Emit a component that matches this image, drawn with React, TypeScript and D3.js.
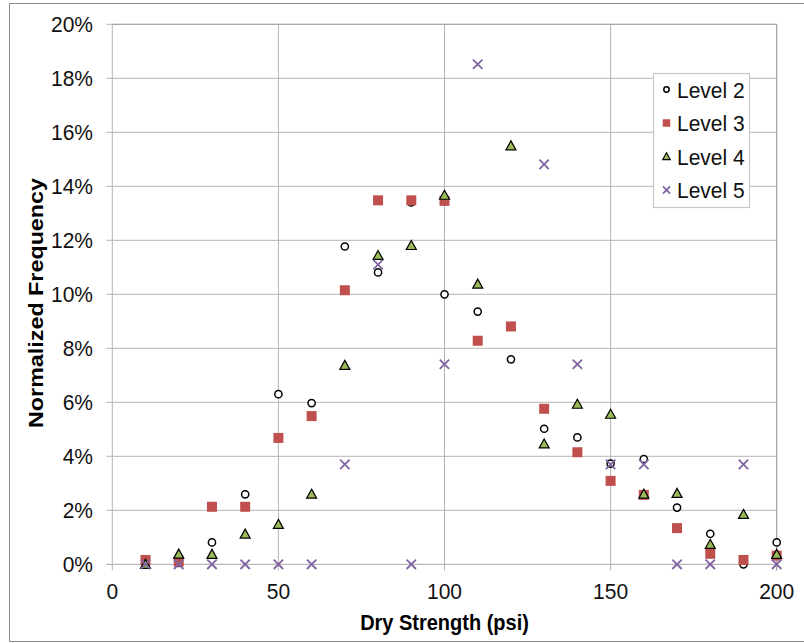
import React, { useEffect, useRef } from "react";
import * as d3 from "d3";

const strengths = [10, 20, 30, 40, 50, 60, 70, 80, 90, 100, 110, 120, 130, 140, 150, 160, 170, 180, 190, 200];
const level2 = [0, 0.05, 0.81, 2.59, 6.3, 5.97, 11.77, 10.81, 13.4, 10.0, 9.36, 7.59, 5.02, 4.7, 3.73, 3.9, 2.1, 1.13, 0, 0.81];
const level3 = [0.16, 0.1, 2.13, 2.13, 4.68, 5.49, 10.15, 13.48, 13.48, 13.46, 8.28, 8.81, 5.76, 4.15, 3.09, 2.57, 1.34, 0.39, 0.16, 0.32];
const level4 = [0, 0.38, 0.37, 1.12, 1.48, 2.6, 7.37, 11.44, 11.81, 13.67, 10.38, 15.5, 4.46, 5.93, 5.56, 2.6, 2.63, 0.74, 1.85, 0.37];
const level5 = [0, 0, 0, 0, 0, 0, 3.7, 11.1, 0, 7.41, 18.52, null, 14.81, 7.41, 3.7, 3.7, 0, 0, 3.7, 0];
const seriesNames = ["Level 2", "Level 3", "Level 4", "Level 5"];
const xTicks = [0, 50, 100, 150, 200];
const yTicks = [0, 2, 4, 6, 8, 10, 12, 14, 16, 18, 20];

function drawMarker(g: any, kind: number, size: number) {
  if (kind === 0) {
    g.append("circle").attr("r", size * 0.36).attr("fill", "#fff").attr("stroke", "#000").attr("stroke-width", 1.5);
  } else if (kind === 1) {
    g.append("rect").attr("x", -size / 2).attr("y", -size / 2).attr("width", size).attr("height", size).attr("fill", "#C0504D");
  } else if (kind === 2) {
    const h = size * 0.9;
    g.append("path")
      .attr("d", `M0,${-h * 0.55}L${size / 2},${h * 0.45}L${-size / 2},${h * 0.45}Z`)
      .attr("fill", "#9BBB59").attr("stroke", "#000").attr("stroke-width", 1.2);
  } else {
    const s = size * 0.47;
    g.append("path")
      .attr("d", `M${-s},${-s}L${s},${s}M${-s},${s}L${s},${-s}`)
      .attr("stroke", "#8064A2").attr("stroke-width", 1.8).attr("fill", "none");
  }
}

export default function App() {
  const ref = useRef<SVGSVGElement>(null);

  useEffect(() => {
    const svg = d3.select(ref.current);
    svg.selectAll("*").remove();

    const x = d3.scaleLinear().domain([0, 200]).range([112.3, 776.7]);
    const y = d3.scaleLinear().domain([0, 20]).range([564.3, 24.3]);
    const font = "'Liberation Sans', Arial, sans-serif";

    // outer frame
    svg.append("path").attr("d", "M810,3.5H9.5V641.5H810").attr("fill", "none").attr("stroke", "#8a8a8a").attr("stroke-width", 1);

    // gridlines
    svg.append("g").selectAll("line").data(yTicks).enter().append("line")
      .attr("x1", x(0) - 6).attr("x2", x(200))
      .attr("y1", (d) => y(d)).attr("y2", (d) => y(d))
      .attr("stroke", (d) => (d === 0 ? "#a8a8a8" : "#b4b4b4")).attr("stroke-width", 1);
    svg.append("g").selectAll("line").data(xTicks).enter().append("line")
      .attr("x1", (d) => x(d)).attr("x2", (d) => x(d))
      .attr("y1", y(20)).attr("y2", y(0) + 6)
      .attr("stroke", "#b4b4b4").attr("stroke-width", 1);
    svg.append("line").attr("x1", x(0)).attr("x2", x(200)).attr("y1", y(20)).attr("y2", y(20)).attr("stroke", "#a0a0a0");
    svg.append("line").attr("x1", x(200)).attr("x2", x(200)).attr("y1", y(20)).attr("y2", y(0) + 6).attr("stroke", "#a0a0a0");

    // tick labels (the reference text is a little taller than wide)
    svg.append("g").selectAll("text").data(yTicks).enter().append("text")
      .attr("transform", (d) => `translate(93,${y(d) + 8}) scale(1,1.08)`)
      .attr("text-anchor", "end").attr("font-family", font).attr("font-size", 21).attr("fill", "#111")
      .text((d) => `${d}%`);
    svg.append("g").selectAll("text").data(xTicks).enter().append("text")
      .attr("transform", (d) => `translate(${x(d)},599) scale(1,1.08)`)
      .attr("text-anchor", "middle").attr("font-family", font).attr("font-size", 21).attr("fill", "#111")
      .text((d) => d);

    // axis titles
    svg.append("text").attr("transform", `translate(${x(100)},630) scale(1,1.08)`)
      .attr("text-anchor", "middle").attr("font-family", font).attr("font-size", 20).attr("font-weight", "bold")
      .text("Dry Strength (psi)");
    svg.append("text").attr("transform", "translate(43,303) rotate(-90)")
      .attr("text-anchor", "middle").attr("font-family", font).attr("font-size", 21).attr("font-weight", "bold")
      .attr("textLength", 250).attr("lengthAdjust", "spacingAndGlyphs")
      .text("Normalized Frequency");

    // points
    [level2, level3, level4, level5].forEach((vals, k) => {
      vals.forEach((v, i) => {
        if (v === null) return;
        const g = svg.append("g").attr("transform", `translate(${x(strengths[i])},${y(v)})`);
        drawMarker(g, k, 10);
      });
    });

    // legend
    const lg = svg.append("g").attr("transform", "translate(653.5,73.5)");
    lg.append("rect").attr("width", 96).attr("height", 134).attr("fill", "#fff").attr("stroke", "#c8c8c8").attr("stroke-width", 1.2);
    seriesNames.forEach((name, k) => {
      const cy = 16 + k * 33.5;
      const g = lg.append("g").attr("transform", `translate(13,${cy})`);
      drawMarker(g, k, 7.5);
      lg.append("text").attr("transform", `translate(23.5,${cy + 8}) scale(1,1.08)`)
        .attr("font-family", font).attr("font-size", 21).attr("fill", "#111")
        .text(name);
    });
  }, []);

  return (
    <svg ref={ref} width={804} height={643} style={{ position: "absolute", left: 0, top: 0, background: "#fff" }} />
  );
}
